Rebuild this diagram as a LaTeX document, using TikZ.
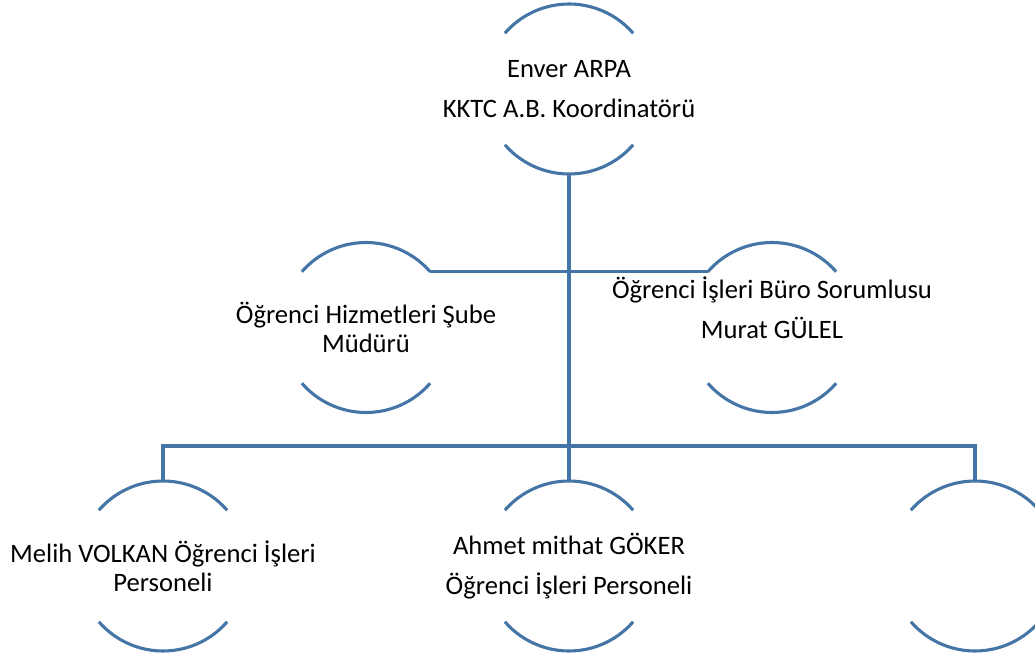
\documentclass[tikz,border=0pt]{standalone}
\usepackage{fontspec}
\setmainfont{Carlito}
\usepackage{tikz}
\usetikzlibrary{positioning}
\definecolor{orgblue}{RGB}{68,117,166}
\tikzset{
	ring/.style={circle, minimum size=170pt, inner sep=0pt, outer sep=0pt},
	txt/.style={align=center, font=\fontsize{26.6}{29}\selectfont, inner sep=0pt},
	orgline/.style={draw=orgblue, line width=3.1pt}
}

\begin{document}
\begin{tikzpicture}[x=1pt,y=1pt]
		\useasboundingbox (0,0) rectangle (1035,654) ;
\par
\node[ring] (top) at (569,565) {} ;
		\node[ring] (mleft) at (366,326.5) {} ;
		\node[ring] (mright) at (772,326.5) {} ;
		\node[ring] (bleft) at (163,88) {} ;
		\node[ring] (bmid) at (569,88) {} ;
		\node[ring] (bright) at (975,88) {} ;
		\coordinate (bus) at (569,208) ;
\par
\foreach \n in {top,mleft,mright,bleft,bmid,bright} {
			\draw[orgline] (\n.41) arc[start angle=41, end angle=139, radius=85] ;
			\draw[orgline] (\n.221) arc[start angle=221, end angle=319, radius=85] ;
		}
\par
\draw[orgline] (top.south) -- (bmid.north) ;
		\draw[orgline] (mleft.41) -- (mright.139) ;
		\draw[orgline] (bleft.north) -- (bleft.north |- bus) -- (bright.north |- bus) -- (bright.north) ;
\par
\node[txt] (toptext) at (top) {Enver ARPA\\[11pt]KKTC A.B. Koordinatörü} ;
		\node[txt] (mlefttext) at (mleft) {Öğrenci Hizmetleri Şube\\Müdürü} ;
		\node[txt] (mrighttext) at ([yshift=20pt]mright.center) {Öğrenci İşleri Büro Sorumlusu\\[11pt]Murat GÜLEL} ;
		\node[txt] (blefttext) at (bleft) {Melih VOLKAN Öğrenci İşleri\\Personeli} ;
		\node[txt] (bmidtext) at (bmid) {Ahmet mithat GÖKER\\[11pt]Öğrenci İşleri Personeli} ;
	\end{tikzpicture}
\end{document}
